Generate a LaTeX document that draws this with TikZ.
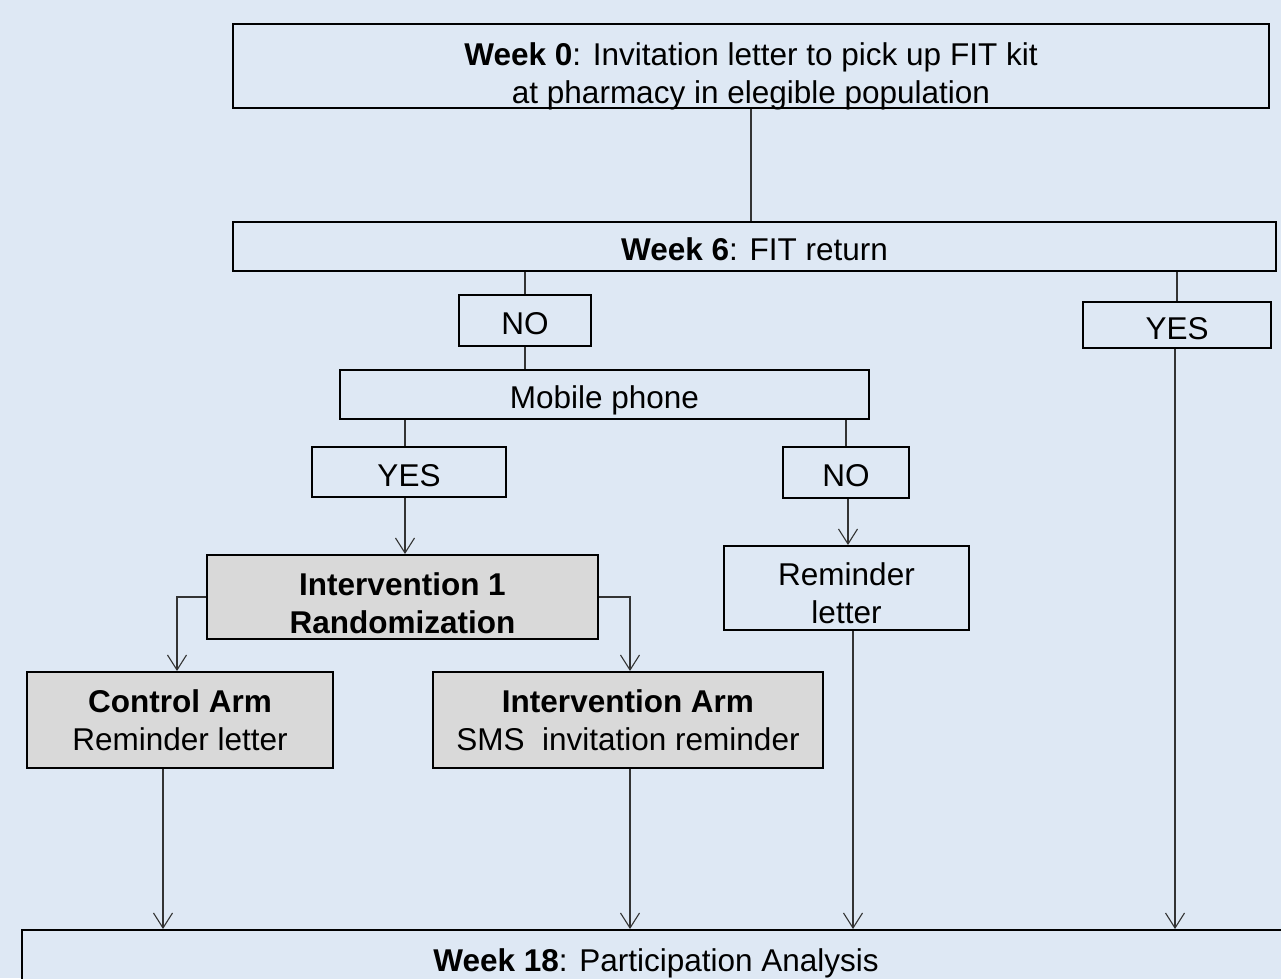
\documentclass[tikz,border=0pt]{standalone}
\usepackage{fontspec}
\setmainfont{Liberation Sans}
\usetikzlibrary{arrows.meta,calc}
\definecolor{bg}{HTML}{DEE8F4}
\definecolor{grayfill}{HTML}{D9D9D9}
\begin{document}
\begin{tikzpicture}[x=1pt,y=-1pt,
  txt/.style={font=\fontsize{31.5}{38}\selectfont,align=center,inner sep=0pt},
  box/.style={draw=black,line width=2pt,fill=bg,rectangle,txt},
  oneline/.style={text height=28.5pt,text depth=0pt},
  graybox/.style={box,fill=grayfill},
  conn/.style={draw=black!80,line width=1.1pt},
  arr/.style={conn,-{Straight Barb[length=15pt,width=19pt,line width=1.1pt]}}
]
\useasboundingbox (0,0) rectangle (1281,978);
\fill[bg] (0,0) rectangle (1281,978);
\begin{scope}
\clip (0,0) rectangle (1281,978);
\node[box,minimum width=1036pt,minimum height=84pt] (w0) at (751,66) {};
\node[txt] (w0t) at (751,76) {\textbf{Week 0}: Invitation letter to pick up FIT kit\\at pharmacy in elegible population};
\node[box,oneline,minimum width=1043pt,minimum height=49pt] (w6) at (754.5,246.5) {\textbf{Week 6}: FIT return};
\node[box,oneline,minimum width=132pt,minimum height=51pt] (no1) at (525,320.5) {NO};
\node[box,oneline,minimum width=188pt,minimum height=46pt] (yes1) at (1177,325) {YES};
\node[box,oneline,minimum width=529pt,minimum height=49pt] (mob) at (604.5,394.5) {Mobile phone};
\node[box,oneline,minimum width=194pt,minimum height=50pt] (yes2) at (409,472) {YES};
\node[box,oneline,minimum width=126pt,minimum height=51pt] (no2) at (846,472.5) {NO};
\node[graybox,minimum width=391pt,minimum height=84pt] (rand) at (402.5,597) {};
\node[txt] (randt) at (402.5,603) {\textbf{Intervention 1}\\\textbf{Randomization}};
\node[box,minimum width=245pt,minimum height=84pt] (rem) at (846.5,588) {};
\node[txt] (remt) at (846.5,593.5) {Reminder\\letter};
\node[graybox,minimum width=306pt,minimum height=96pt] (ctrl) at (180,720) {\textbf{Control Arm}\\Reminder letter};
\node[graybox,minimum width=390pt,minimum height=96pt] (iarm) at (628,720) {\textbf{Intervention Arm}\\SMS~~invitation reminder};
\node[box,oneline,minimum width=1268pt,minimum height=54pt] (w18) at (656,957) {\textbf{Week 18}: Participation Analysis};
\end{scope}
% connectors
\draw[conn] (w0.south) -- (w0.south |- w6.north);
\draw[conn] (no1.north |- w6.south) -- (no1.north);
\draw[conn] (no1.south) -- (no1.south |- mob.north);
\draw[conn] (yes1.north |- w6.south) -- (yes1.north);
\draw[conn] ([xshift=-4pt]yes2.north |- mob.south) -- ([xshift=-4pt]yes2.north);
\draw[conn] (no2.north |- mob.south) -- (no2.north);
\draw[arr] ([xshift=-4pt]yes2.south) -- ([xshift=-4pt]yes2.south |- rand.north);
\draw[arr] ([xshift=2pt]no2.south) -- ([xshift=2pt]no2.south |- rem.north);
\draw[arr] (rand.west) -| ([xshift=-3pt]ctrl.north);
\draw[arr] (rand.east) -| ([xshift=2pt]iarm.north);
\draw[arr] ([xshift=-17pt]ctrl.south) -- ([xshift=-17pt]ctrl.south |- w18.north);
\draw[arr] ([xshift=2pt]iarm.south) -- ([xshift=2pt]iarm.south |- w18.north);
\draw[arr] ([xshift=6.5pt]rem.south) -- ([xshift=6.5pt]rem.south |- w18.north);
\draw[arr] ([xshift=-2pt]yes1.south) -- ([xshift=-2pt]yes1.south |- w18.north);
\end{tikzpicture}
\end{document}
